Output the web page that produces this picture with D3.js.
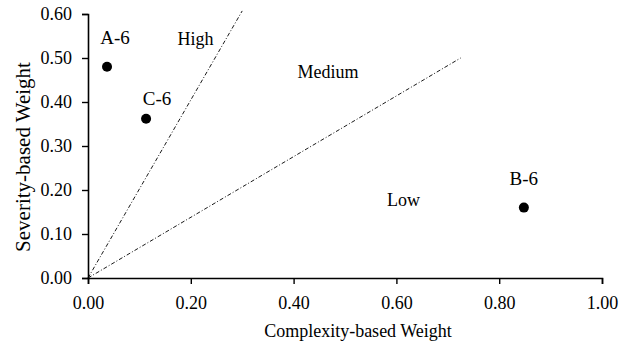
<!DOCTYPE html>
<html>
<head>
<meta charset="utf-8">
<script src="https://cdn.jsdelivr.net/npm/d3@7"></script>
<style>
  body { margin: 0; background: #fff; }
</style>
</head>
<body>
<div id="chart"></div>
<script>
// points
const names = ['A-6', 'C-6', 'B-6'];
const complexity = [0.037, 0.113, 0.848];
const severity = [0.48, 0.362, 0.16];

// region boundary lines (start, end) in data units
const boundaryX = [[0, 0.30], [0, 0.725]];
const boundaryY = [[0, 0.607], [0, 0.50]];

const regionNames = ['High', 'Medium', 'Low'];
const regionX = [0.209, 0.467, 0.614];
const regionY = [0.53, 0.455, 0.163];

const xTicks = [0, 0.2, 0.4, 0.6, 0.8, 1.0];
const yTicks = [0, 0.1, 0.2, 0.3, 0.4, 0.5, 0.6];

const serif = '"Liberation Serif", "Times New Roman", serif';
const width = 644, height = 347;
const margin = {top: 14, right: 42, bottom: 69, left: 88};

// label offsets from each point, in px
const labelDx = [8, 11, 0];
const labelDy = [-23, -14, -23];

const svg = d3.select('#chart').append('svg')
  .attr('width', width)
  .attr('height', height)
  .style('font-family', serif);

const x = d3.scaleLinear().domain([0, 1]).range([margin.left, width - margin.right]);
const y = d3.scaleLinear().domain([0, 0.6]).range([height - margin.bottom, margin.top]);

// boundary lines
svg.selectAll('.boundary')
  .data(boundaryX)
  .enter()
  .append('line')
  .attr('class', 'boundary')
  .attr('x1', (d) => x(d[0]))
  .attr('x2', (d) => x(d[1]))
  .attr('y1', (d, i) => y(boundaryY[i][0]))
  .attr('y2', (d, i) => y(boundaryY[i][1]))
  .attr('stroke', '#000')
  .attr('stroke-width', 0.9)
  .attr('stroke-dasharray', '4,2,1,2');

// axes
const xAxis = svg.append('g')
  .attr('transform', `translate(0,${y(0)})`)
  .call(d3.axisBottom(x).tickValues(xTicks).tickFormat(d3.format('.2f')).tickSizeOuter(0).tickSize(6).tickPadding(12));

const yAxis = svg.append('g')
  .attr('transform', `translate(${x(0)},0)`)
  .call(d3.axisLeft(y).tickValues(yTicks).tickFormat(d3.format('.2f')).tickSizeOuter(0).tickSize(6).tickPadding(10));

[xAxis, yAxis].forEach((g) => {
  g.attr('font-family', serif).attr('font-size', 18);
  g.select('.domain').attr('stroke', '#000').attr('stroke-width', 1.6);
  g.selectAll('.tick line').attr('stroke', '#000').attr('stroke-width', 1.4);
  g.selectAll('.tick text').attr('fill', '#000');
});

// points
svg.selectAll('.pt')
  .data(names)
  .enter()
  .append('circle')
  .attr('class', 'pt')
  .attr('cx', (d, i) => x(complexity[i]))
  .attr('cy', (d, i) => y(severity[i]))
  .attr('r', 5)
  .attr('fill', '#000');

svg.selectAll('.ptlabel')
  .data(names)
  .enter()
  .append('text')
  .attr('class', 'ptlabel')
  .attr('x', (d, i) => x(complexity[i]) + labelDx[i])
  .attr('y', (d, i) => y(severity[i]) + labelDy[i])
  .attr('text-anchor', 'middle')
  .attr('font-size', 19)
  .text((d) => d);

// region labels
svg.selectAll('.region')
  .data(regionNames)
  .enter()
  .append('text')
  .attr('class', 'region')
  .attr('x', (d, i) => x(regionX[i]))
  .attr('y', (d, i) => y(regionY[i]))
  .attr('text-anchor', 'middle')
  .attr('font-size', 18)
  .text((d) => d);

// axis titles
svg.append('text')
  .attr('x', 358)
  .attr('y', 337)
  .attr('text-anchor', 'middle')
  .attr('font-size', 18)
  .text('Complexity-based Weight');

svg.append('text')
  .attr('transform', 'translate(30,157) rotate(-90)')
  .attr('text-anchor', 'middle')
  .attr('font-size', 21)
  .text('Severity-based Weight');
</script>
</body>
</html>
